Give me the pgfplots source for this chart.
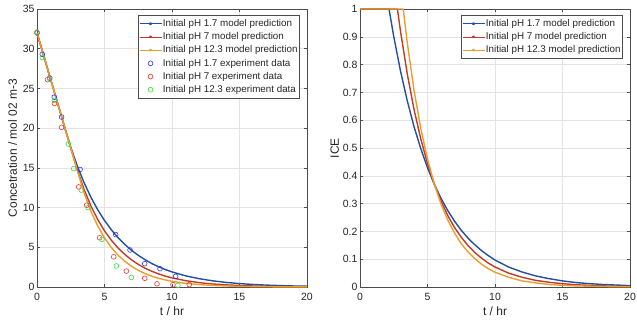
\documentclass[border=0pt]{standalone}
\usepackage{fontspec}
\setmainfont{Liberation Sans}
\usepackage{pgfplots}
\usepackage{pgfplotstable}
\pgfplotsset{compat=1.18}

\definecolor{mblue}{rgb}{0.13,0.31,0.63}
\definecolor{mred}{rgb}{0.76,0.23,0.15}
\definecolor{morange}{rgb}{0.92,0.62,0.18}
\definecolor{dblue}{rgb}{0.22,0.22,0.92}
\definecolor{dred}{rgb}{0.95,0.22,0.22}
\definecolor{dgreen}{rgb}{0.25,0.85,0.25}
\definecolor{axgray}{rgb}{0.3,0.3,0.3}

% t  C  ICE
\pgfplotstableread{
t C E
0 32.00 1
0.5 29.10 1
1 26.20 1
1.5 23.30 1
2 20.40 1
2.15 19.53 1
2.5 17.60 0.901
3 15.17 0.777
3.5 13.08 0.670
4 11.28 0.577
4.5 9.72 0.498
5 8.38 0.429
5.5 7.22 0.370
6 6.22 0.319
6.5 5.37 0.275
7 4.62 0.237
7.5 3.99 0.204
8 3.44 0.176
8.5 2.96 0.152
9 2.55 0.131
9.5 2.20 0.113
10 1.90 0.097
11 1.41 0.072
12 1.05 0.054
13 0.78 0.040
14 0.58 0.030
15 0.43 0.022
16 0.32 0.016
17 0.24 0.012
18 0.18 0.009
19 0.13 0.007
20 0.10 0.005
}\blue

\pgfplotstableread{
t C E
0 32.00 1
0.5 29.10 1
1 26.20 1
1.5 23.30 1
2 20.40 1
2.5 17.50 1
2.77 15.93 1
3 14.65 0.920
3.5 12.21 0.767
4 10.18 0.639
4.5 8.49 0.533
5 7.07 0.444
5.5 5.90 0.370
6 4.91 0.309
6.5 4.10 0.257
7 3.42 0.214
7.5 2.85 0.179
8 2.37 0.149
8.5 1.98 0.124
9 1.65 0.104
9.5 1.37 0.086
10 1.15 0.072
11 0.80 0.050
12 0.55 0.035
13 0.38 0.024
14 0.27 0.017
15 0.19 0.012
16 0.13 0.008
17 0.09 0.006
18 0.06 0.004
19 0.04 0.003
20 0.03 0.002
}\red

\pgfplotstableread{
t C E
0 32.00 1
0.5 29.10 1
1 26.20 1
1.5 23.30 1
2 20.40 1
2.5 17.50 1
3 14.60 1
3.2 13.44 1
3.5 11.81 0.879
4 9.52 0.708
4.5 7.67 0.571
5 6.18 0.460
5.5 4.98 0.371
6 4.01 0.299
6.5 3.24 0.241
7 2.61 0.194
7.5 2.10 0.156
8 1.69 0.126
8.5 1.37 0.102
9 1.10 0.082
9.5 0.89 0.066
10 0.71 0.053
11 0.46 0.035
12 0.30 0.022
13 0.20 0.015
14 0.13 0.009
15 0.08 0.006
16 0.05 0.004
17 0.03 0.003
18 0.02 0.002
19 0.015 0.001
20 0.01 0.001
}\orange

\pgfplotstableread{
t C
0 32.0
0.39 29.3
0.94 26.3
1.28 23.9
1.82 21.4
3.19 14.8
5.83 6.6
6.89 4.66
7.98 2.94
9.11 2.3
10.27 1.34
}\bluedata

\pgfplotstableread{
t C
0 32.0
0.78 26.1
1.29 23.1
1.82 20.1
3.09 12.6
3.68 10.3
4.64 6.2
5.68 3.8
6.62 2.0
7.98 1.1
8.89 0.4
10.07 0.3
11.28 0.3
}\reddata

\pgfplotstableread{
t C
0 32.1
0.39 28.9
0.94 26.2
1.28 23.5
2.32 18.0
2.72 14.9
3.28 12.2
3.78 10.0
4.81 6.0
5.88 2.65
6.99 1.2
10.44 0.2
}\greendata

\pgfplotsset{
  common/.style={
    scale only axis, width=270pt, height=278pt,
    xmin=0, xmax=20, xtick={0,5,10,15,20},
    grid=major, grid style={gray!22, line width=0.5pt},
    tick align=inside, major tick length=3pt,
    axis line style={axgray, line width=0.5pt},
    tick style={axgray, line width=0.5pt},
    /pgf/number format/assume math mode=true,
    ticklabel style={font=\fontsize{10.5}{12}\selectfont, text=black!85},
    xticklabel style={yshift=-2.5pt},
    yticklabel style={xshift=1pt},
    label style={font=\fontsize{12}{14}\selectfont, text=black!85},
    xlabel={t / hr},
    xlabel style={yshift=0.5pt},
    legend cell align=left,
    legend style={font=\fontsize{9.8}{11}\selectfont, draw=black!70, line width=0.5pt,
      at={(0.974,0.977)}, anchor=north east, inner xsep=1pt, inner ysep=1.5pt,
      nodes={inner xsep=1.2pt, inner ysep=2.3pt, text=black!85}},
  },
  model/.style={line width=1.4pt, line join=round,
    legend image code/.code={\draw[##1, line width=0.5pt] (0pt,0pt) -- (22pt,0pt); \fill[##1] (11pt,0pt) circle (0.8pt);}},
  expd/.style={only marks, mark=o, mark size=2.4pt, mark options={line width=0.6pt},
    legend image code/.code={\draw[mark repeat=2,mark phase=2,##1] plot coordinates {(0pt,0pt) (11pt,0pt) (22pt,0pt)};}},
}

\begin{document}
\begin{tikzpicture}
\begin{axis}[common, at={(0pt,0pt)}, anchor=south west,
  ymin=0, ymax=35, ytick={0,5,...,35},
  ylabel={Concetration / mol 02 m-3}, ylabel style={yshift=-1pt}]
\addplot[model, mblue] table[x=t, y=C] {\blue};
\addplot[model, mred] table[x=t, y=C] {\red};
\addplot[model, morange] table[x=t, y=C] {\orange};
\addplot[expd, dblue] table[x=t, y=C] {\bluedata};
\addplot[expd, dred] table[x=t, y=C] {\reddata};
\addplot[expd, dgreen] table[x=t, y=C] {\greendata};
\legend{Initial pH 1.7 model prediction, Initial pH 7 model prediction, Initial pH 12.3 model prediction, Initial pH 1.7 experiment data, Initial pH 7 experiment data, Initial pH 12.3 experiment data}
\end{axis}
\begin{axis}[common, at={(323pt,0pt)}, anchor=south west,
  ymin=0, ymax=1, ytick={0,0.1,0.2,0.3,0.4,0.5,0.6,0.7,0.8,0.9,1},
  ylabel={ICE}, ylabel style={yshift=-3pt}]
\addplot[model, mblue] table[x=t, y=E] {\blue};
\addplot[model, mred] table[x=t, y=E] {\red};
\addplot[model, morange] table[x=t, y=E] {\orange};
\legend{Initial pH 1.7 model prediction, Initial pH 7 model prediction, Initial pH 12.3 model prediction}
\end{axis}
\pgfresetboundingbox
\path (-37pt,-32pt) rectangle (600pt,287pt);
\end{tikzpicture}
\end{document}
